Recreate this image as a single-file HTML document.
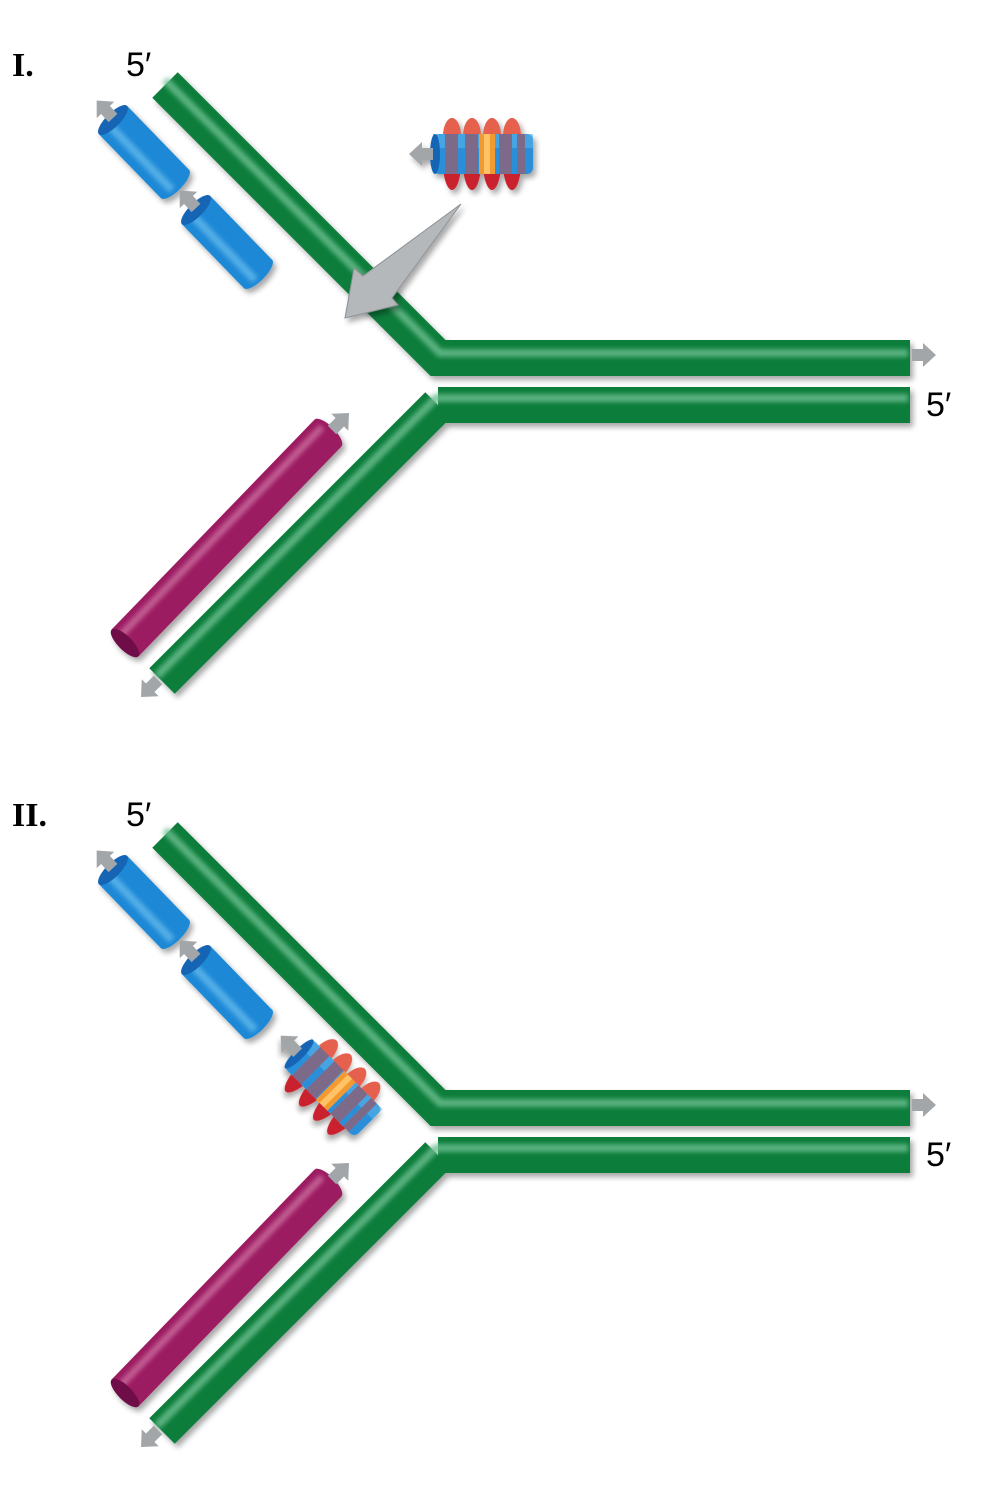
<!DOCTYPE html>
<html><head><meta charset="utf-8"><style>
html,body{margin:0;padding:0;background:#fff;}
svg{display:block}
text{font-family:"Liberation Sans",sans-serif;}
</style></head><body>
<svg width="1000" height="1512" viewBox="0 0 1000 1512" xmlns="http://www.w3.org/2000/svg">
<defs>
<filter id="sh" x="-20%" y="-20%" width="140%" height="140%"><feGaussianBlur in="SourceAlpha" stdDeviation="3"/><feOffset dx="3" dy="4"/><feComponentTransfer><feFuncA type="linear" slope="0.35"/></feComponentTransfer><feMerge><feMergeNode/><feMergeNode in="SourceGraphic"/></feMerge></filter>
<filter id="bl"><feGaussianBlur stdDeviation="2.5"/></filter>
<g id="garrow"><path d="M0,-6 L11,-6 L11,-12 L24,0 L11,12 L11,6 L0,6 Z" fill="#a3a6a9"/></g>
<g id="clamp">
  <g fill="#c9202f">
    <ellipse cx="-31" cy="0" rx="10" ry="36"/><ellipse cx="-11" cy="0" rx="10" ry="36"/>
    <ellipse cx="9" cy="0" rx="10" ry="36"/><ellipse cx="29" cy="0" rx="10" ry="36"/>
  </g>
  <g fill="#e5604e">
    <ellipse cx="-31" cy="-18" rx="9" ry="18"/><ellipse cx="-11" cy="-18" rx="9" ry="18"/>
    <ellipse cx="9" cy="-18" rx="9" ry="18"/><ellipse cx="29" cy="-18" rx="9" ry="18"/>
  </g>
  <rect x="-50" y="-20" width="100" height="40" rx="6" fill="#2b8fd8"/>
  <rect x="-50" y="-20" width="100" height="14" fill="#55b3ea" opacity="0.6"/>
  <g fill="#7d6a88">
    <rect x="-38" y="-20" width="13" height="40"/><rect x="-18" y="-20" width="13" height="40"/>
    <rect x="16" y="-20" width="13" height="40"/><rect x="34" y="-20" width="8" height="40"/>
  </g>
  <rect x="-4" y="-20" width="16" height="40" fill="#f29a2e"/>
  <rect x="1" y="-20" width="6" height="40" fill="#ffc266"/>
  <ellipse cx="-48" cy="0" rx="5" ry="20" fill="#1565b5"/>
  <use href="#garrow" transform="translate(-50,0) rotate(180)"/>
</g>
<g id="panel">
  <g filter="url(#sh)">
    <line x1="113" y1="120" x2="175" y2="184" stroke="#1e88d6" stroke-width="40"/>
    <ellipse cx="175" cy="184" rx="7" ry="20" transform="rotate(45 175 184)" fill="#1e88d6"/>
    <line x1="110" y1="126" x2="172" y2="190" stroke="#6cc0ee" stroke-width="8" opacity="0.7" filter="url(#bl)"/>
    <ellipse cx="113" cy="120" rx="7" ry="20" transform="rotate(45 113 120)" fill="#1565b5"/>
    <line x1="196" y1="210" x2="258" y2="274" stroke="#1e88d6" stroke-width="40"/>
    <ellipse cx="258" cy="274" rx="7" ry="20" transform="rotate(45 258 274)" fill="#1e88d6"/>
    <line x1="193" y1="216" x2="255" y2="280" stroke="#6cc0ee" stroke-width="8" opacity="0.7" filter="url(#bl)"/>
    <ellipse cx="196" cy="210" rx="7" ry="20" transform="rotate(45 196 210)" fill="#1565b5"/>
  </g>
  <use href="#garrow" transform="translate(113,118) rotate(-133)"/>
  <use href="#garrow" transform="translate(196,208) rotate(-133)"/>
  <g filter="url(#sh)">
    <line x1="125" y1="643" x2="328" y2="433" stroke="#9c1c62" stroke-width="38"/>
    <ellipse cx="328" cy="433" rx="7" ry="19" transform="rotate(-45 328 433)" fill="#9c1c62"/>
    <line x1="119" y1="637" x2="322" y2="427" stroke="#d27aa8" stroke-width="7" opacity="0.7" filter="url(#bl)"/>
    <ellipse cx="125" cy="643" rx="7" ry="19" transform="rotate(-45 125 643)" fill="#6e1146"/>
  </g>
  <use href="#garrow" transform="translate(332,430) rotate(-45)"/>
  <g filter="url(#sh)">
    <path d="M165,85 L438,358 L910,358" fill="none" stroke="#0b7d3b" stroke-width="36" stroke-linejoin="miter"/>
    <path d="M438,405 L910,405 M438,405 L162,681" fill="none" stroke="#0b7d3b" stroke-width="36"/>
  </g>
  <path d="M165,80 L440,353 L908,353" fill="none" stroke="#6dc091" stroke-width="8" opacity="0.8" filter="url(#bl)"/>
  <path d="M157,676 L436,398 L908,398" fill="none" stroke="#6dc091" stroke-width="8" opacity="0.8" filter="url(#bl)"/>
  <use href="#garrow" transform="translate(912,355)"/>
  <use href="#garrow" transform="translate(158,680) rotate(135)"/>
  <text x="126" y="76" font-size="34">5′</text>
  <text x="926" y="416" font-size="34">5′</text>
</g>
</defs>
<text x="12" y="76" font-size="34" font-weight="bold" style="font-family:'Liberation Serif',serif">I.</text>
<text x="12" y="826" font-size="34" font-weight="bold" style="font-family:'Liberation Serif',serif">II.</text>
<use href="#panel"/>
<use href="#clamp" transform="translate(483,154)" filter="url(#sh)"/>
<path d="M461,204 L392,298 L398,305 L345,318 L354,268 L363,276 Z" fill="#b5b8bb" stroke="#8d9094" stroke-width="1" filter="url(#sh)"/>
<g transform="translate(0,750)"><use href="#panel"/></g>
<use href="#clamp" transform="translate(333,1088) rotate(45)" filter="url(#sh)"/>
</svg>
</body></html>
